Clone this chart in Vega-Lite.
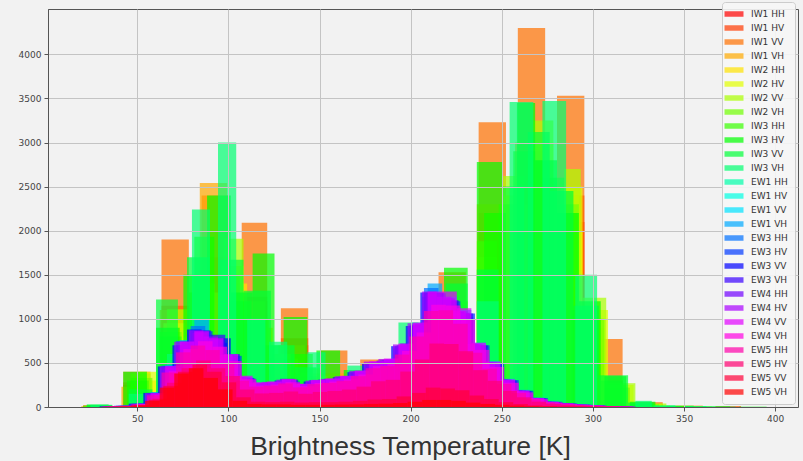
{
"$schema":"https://vega.github.io/schema/vega-lite/v6.json",
"width":750,"height":398,
"autosize":{"type":"none"},
"padding":{"left":48,"top":9,"right":5,"bottom":54},
"background":"#f2f2f2",
"config":{"view":{"stroke":"#555555","strokeWidth":1,"fill":"#f2f2f2"}},
"data":{"values":[
{"s":"IW1 HH","a":20,"b":35,"n":12},{"s":"IW1 HH","a":42,"b":57,"n":250},{"s":"IW1 HH","a":63,"b":78,"n":1000},{"s":"IW1 HH","a":85,"b":100,"n":1500},{"s":"IW1 HH","a":107,"b":121,"n":1200},{"s":"IW1 HH","a":128.5,"b":143.5,"n":700},{"s":"IW1 HH","a":150,"b":165,"n":300},{"s":"IW1 HH","a":172,"b":187,"n":250},{"s":"IW1 HH","a":193,"b":208,"n":400},{"s":"IW1 HH","a":215,"b":230,"n":900},{"s":"IW1 HH","a":237,"b":252,"n":2000},{"s":"IW1 HH","a":258.5,"b":273.5,"n":2600},{"s":"IW1 HH","a":280,"b":295,"n":2100},{"s":"IW1 HH","a":302,"b":316,"n":250},{"s":"IW1 HH","a":323,"b":338,"n":30},{"s":"IW1 HH","a":345,"b":360,"n":8},{"s":"IW1 HH","a":367,"b":381,"n":4},
{"s":"IW1 HV","a":20,"b":35,"n":14},{"s":"IW1 HV","a":42,"b":57,"n":280},{"s":"IW1 HV","a":63,"b":78,"n":1150},{"s":"IW1 HV","a":85,"b":100,"n":1700},{"s":"IW1 HV","a":107,"b":121,"n":1250},{"s":"IW1 HV","a":128.5,"b":143.5,"n":780},{"s":"IW1 HV","a":150,"b":165,"n":340},{"s":"IW1 HV","a":172,"b":187,"n":300},{"s":"IW1 HV","a":193,"b":208,"n":450},{"s":"IW1 HV","a":215,"b":230,"n":1000},{"s":"IW1 HV","a":237,"b":252,"n":2200},{"s":"IW1 HV","a":258.5,"b":273.5,"n":2900},{"s":"IW1 HV","a":280,"b":295,"n":2400},{"s":"IW1 HV","a":302,"b":316,"n":300},{"s":"IW1 HV","a":323,"b":338,"n":35},{"s":"IW1 HV","a":345,"b":360,"n":9},{"s":"IW1 HV","a":367,"b":381,"n":4},
{"s":"IW1 VV","a":20,"b":35,"n":20},{"s":"IW1 VV","a":42,"b":57,"n":400},{"s":"IW1 VV","a":63,"b":78,"n":1900},{"s":"IW1 VV","a":85,"b":100,"n":2400},{"s":"IW1 VV","a":107,"b":121,"n":2090},{"s":"IW1 VV","a":128.5,"b":143.5,"n":1120},{"s":"IW1 VV","a":150,"b":165,"n":640},{"s":"IW1 VV","a":172,"b":187,"n":540},{"s":"IW1 VV","a":193,"b":208,"n":650},{"s":"IW1 VV","a":215,"b":230,"n":1530},{"s":"IW1 VV","a":237,"b":252,"n":3230},{"s":"IW1 VV","a":258.5,"b":273.5,"n":4300},{"s":"IW1 VV","a":280,"b":295,"n":3530},{"s":"IW1 VV","a":302,"b":316,"n":770},{"s":"IW1 VV","a":323,"b":338,"n":55},{"s":"IW1 VV","a":345,"b":360,"n":15},{"s":"IW1 VV","a":367,"b":381,"n":8},
{"s":"IW1 VH","a":19,"b":34,"n":10},{"s":"IW1 VH","a":41,"b":56,"n":230},{"s":"IW1 VH","a":62,"b":77,"n":1100},{"s":"IW1 VH","a":84,"b":99,"n":2540},{"s":"IW1 VH","a":106,"b":120,"n":1200},{"s":"IW1 VH","a":127,"b":142,"n":700},{"s":"IW1 VH","a":149,"b":164,"n":380},{"s":"IW1 VH","a":171,"b":186,"n":300},{"s":"IW1 VH","a":192,"b":207,"n":600},{"s":"IW1 VH","a":214,"b":229,"n":1000},{"s":"IW1 VH","a":236,"b":251,"n":2300},{"s":"IW1 VH","a":257,"b":272,"n":3000},{"s":"IW1 VH","a":278,"b":292,"n":2400},{"s":"IW1 VH","a":301,"b":315,"n":320},{"s":"IW1 VH","a":322,"b":337,"n":30},
{"s":"IW2 HH","a":24,"b":36,"n":10},{"s":"IW2 HH","a":48,"b":60,"n":300},{"s":"IW2 HH","a":66,"b":78,"n":800},{"s":"IW2 HH","a":84,"b":96,"n":1300},{"s":"IW2 HH","a":98,"b":110,"n":1400},{"s":"IW2 HH","a":112,"b":124,"n":900},{"s":"IW2 HH","a":126,"b":138,"n":550},{"s":"IW2 HH","a":142,"b":154,"n":350},{"s":"IW2 HH","a":158,"b":170,"n":280},{"s":"IW2 HH","a":174,"b":186,"n":350},{"s":"IW2 HH","a":190,"b":202,"n":550},{"s":"IW2 HH","a":206,"b":218,"n":850},{"s":"IW2 HH","a":220,"b":231,"n":1100},{"s":"IW2 HH","a":238,"b":250,"n":1500},{"s":"IW2 HH","a":254,"b":266,"n":2300},{"s":"IW2 HH","a":268,"b":280,"n":2500},{"s":"IW2 HH","a":282,"b":294,"n":2000},{"s":"IW2 HH","a":294,"b":306,"n":900},{"s":"IW2 HH","a":306,"b":318,"n":200},{"s":"IW2 HH","a":318,"b":330,"n":40},{"s":"IW2 HH","a":330,"b":342,"n":15},
{"s":"IW2 HV","a":22,"b":34,"n":12},{"s":"IW2 HV","a":50,"b":60,"n":400},{"s":"IW2 HV","a":64,"b":76,"n":950},{"s":"IW2 HV","a":80,"b":92,"n":1400},{"s":"IW2 HV","a":96,"b":108,"n":1600},{"s":"IW2 HV","a":110,"b":122,"n":1000},{"s":"IW2 HV","a":124,"b":136,"n":600},{"s":"IW2 HV","a":138,"b":150,"n":380},{"s":"IW2 HV","a":154,"b":166,"n":300},{"s":"IW2 HV","a":170,"b":182,"n":380},{"s":"IW2 HV","a":186,"b":198,"n":520},{"s":"IW2 HV","a":202,"b":214,"n":850},{"s":"IW2 HV","a":218,"b":230,"n":1200},{"s":"IW2 HV","a":236,"b":247,"n":1700},{"s":"IW2 HV","a":250,"b":262,"n":2400},{"s":"IW2 HV","a":266,"b":278,"n":3000},{"s":"IW2 HV","a":282,"b":294,"n":2500},{"s":"IW2 HV","a":296,"b":308,"n":1100},{"s":"IW2 HV","a":308,"b":322,"n":250},{"s":"IW2 HV","a":324,"b":338,"n":35},{"s":"IW2 HV","a":340,"b":354,"n":10},
{"s":"IW2 VV","a":22,"b":34,"n":15},{"s":"IW2 VV","a":46,"b":57,"n":380},{"s":"IW2 VV","a":66,"b":78,"n":1110},{"s":"IW2 VV","a":80,"b":92,"n":1500},{"s":"IW2 VV","a":97,"b":108,"n":1910},{"s":"IW2 VV","a":110,"b":121,"n":1000},{"s":"IW2 VV","a":125,"b":136,"n":600},{"s":"IW2 VV","a":140,"b":150,"n":440},{"s":"IW2 VV","a":153,"b":164,"n":280},{"s":"IW2 VV","a":168,"b":180,"n":350},{"s":"IW2 VV","a":182,"b":193,"n":450},{"s":"IW2 VV","a":196,"b":207,"n":700},{"s":"IW2 VV","a":210,"b":221,"n":1000},{"s":"IW2 VV","a":221,"b":231,"n":1200},{"s":"IW2 VV","a":236,"b":247,"n":1880},{"s":"IW2 VV","a":250,"b":262,"n":2620},{"s":"IW2 VV","a":267,"b":278,"n":3250},{"s":"IW2 VV","a":284,"b":293,"n":2700},{"s":"IW2 VV","a":294,"b":307,"n":1240},{"s":"IW2 VV","a":307,"b":323,"n":270},{"s":"IW2 VV","a":327,"b":340,"n":40},{"s":"IW2 VV","a":345,"b":360,"n":12},
{"s":"IW2 VH","a":20,"b":32,"n":10},{"s":"IW2 VH","a":46,"b":58,"n":330},{"s":"IW2 VH","a":62,"b":74,"n":850},{"s":"IW2 VH","a":78,"b":90,"n":1300},{"s":"IW2 VH","a":94,"b":106,"n":1500},{"s":"IW2 VH","a":108,"b":120,"n":950},{"s":"IW2 VH","a":122,"b":134,"n":550},{"s":"IW2 VH","a":136,"b":148,"n":350},{"s":"IW2 VH","a":152,"b":164,"n":280},{"s":"IW2 VH","a":168,"b":180,"n":350},{"s":"IW2 VH","a":184,"b":196,"n":480},{"s":"IW2 VH","a":200,"b":212,"n":780},{"s":"IW2 VH","a":216,"b":228,"n":1100},{"s":"IW2 VH","a":236,"b":248,"n":1500},{"s":"IW2 VH","a":248,"b":260,"n":2300},{"s":"IW2 VH","a":264,"b":276,"n":2800},{"s":"IW2 VH","a":280,"b":292,"n":2300},{"s":"IW2 VH","a":294,"b":306,"n":1000},{"s":"IW2 VH","a":306,"b":320,"n":220},{"s":"IW2 VH","a":322,"b":336,"n":30},{"s":"IW2 VH","a":338,"b":352,"n":8},
{"s":"IW3 HH","a":20,"b":33,"n":15},{"s":"IW3 HH","a":44,"b":56,"n":300},{"s":"IW3 HH","a":62,"b":74,"n":800},{"s":"IW3 HH","a":81,"b":92,"n":1930},{"s":"IW3 HH","a":100,"b":112,"n":1200},{"s":"IW3 HH","a":118,"b":130,"n":700},{"s":"IW3 HH","a":134,"b":146,"n":600},{"s":"IW3 HH","a":152,"b":164,"n":300},{"s":"IW3 HH","a":170,"b":182,"n":300},{"s":"IW3 HH","a":188,"b":200,"n":500},{"s":"IW3 HH","a":206,"b":218,"n":800},{"s":"IW3 HH","a":220,"b":231,"n":1100},{"s":"IW3 HH","a":240,"b":252,"n":2200},{"s":"IW3 HH","a":256,"b":268,"n":2900},{"s":"IW3 HH","a":272,"b":284,"n":2600},{"s":"IW3 HH","a":288,"b":300,"n":1100},{"s":"IW3 HH","a":304,"b":316,"n":300},{"s":"IW3 HH","a":320,"b":332,"n":40},
{"s":"IW3 HV","a":22,"b":36,"n":20},{"s":"IW3 HV","a":42,"b":55,"n":400},{"s":"IW3 HV","a":60,"b":73,"n":900},{"s":"IW3 HV","a":75,"b":88,"n":1500},{"s":"IW3 HV","a":88,"b":101,"n":2400},{"s":"IW3 HV","a":101,"b":113,"n":1300},{"s":"IW3 HV","a":113,"b":125,"n":1740},{"s":"IW3 HV","a":130,"b":143,"n":1020},{"s":"IW3 HV","a":148,"b":161,"n":640},{"s":"IW3 HV","a":163,"b":176,"n":420},{"s":"IW3 HV","a":182,"b":195,"n":500},{"s":"IW3 HV","a":200,"b":213,"n":800},{"s":"IW3 HV","a":218,"b":231,"n":1580},{"s":"IW3 HV","a":236,"b":250,"n":2780},{"s":"IW3 HV","a":258,"b":268,"n":3450},{"s":"IW3 HV","a":268,"b":280,"n":2800},{"s":"IW3 HV","a":280,"b":292,"n":2200},{"s":"IW3 HV","a":292,"b":304,"n":1200},{"s":"IW3 HV","a":306,"b":318,"n":350},{"s":"IW3 HV","a":320,"b":334,"n":60},{"s":"IW3 HV","a":340,"b":355,"n":15},{"s":"IW3 HV","a":360,"b":375,"n":8},{"s":"IW3 HV","a":380,"b":395,"n":4},
{"s":"IW3 VV","a":22,"b":34,"n":30},{"s":"IW3 VV","a":45,"b":58,"n":200},{"s":"IW3 VV","a":60,"b":72,"n":1220},{"s":"IW3 VV","a":77,"b":89.5,"n":1700},{"s":"IW3 VV","a":95,"b":108,"n":1670},{"s":"IW3 VV","a":108,"b":123,"n":1320},{"s":"IW3 VV","a":123,"b":136,"n":700},{"s":"IW3 VV","a":136,"b":148,"n":450},{"s":"IW3 VV","a":150,"b":164,"n":300},{"s":"IW3 VV","a":164,"b":176,"n":350},{"s":"IW3 VV","a":178,"b":192,"n":450},{"s":"IW3 VV","a":192,"b":206,"n":650},{"s":"IW3 VV","a":206,"b":219,"n":900},{"s":"IW3 VV","a":219,"b":231,"n":1400},{"s":"IW3 VV","a":236,"b":248,"n":1560},{"s":"IW3 VV","a":250,"b":262,"n":2500},{"s":"IW3 VV","a":264,"b":276,"n":3120},{"s":"IW3 VV","a":276,"b":289,"n":2450},{"s":"IW3 VV","a":289,"b":303,"n":1150},{"s":"IW3 VV","a":303,"b":319,"n":360},{"s":"IW3 VV","a":319,"b":333,"n":50},{"s":"IW3 VV","a":333,"b":348,"n":12},{"s":"IW3 VV","a":350,"b":365,"n":6},
{"s":"IW3 VH","a":24,"b":36,"n":25},{"s":"IW3 VH","a":45,"b":57,"n":150},{"s":"IW3 VH","a":66,"b":78,"n":600},{"s":"IW3 VH","a":79.7,"b":89.6,"n":2240},{"s":"IW3 VH","a":94,"b":104,"n":3000},{"s":"IW3 VH","a":110,"b":120,"n":1000},{"s":"IW3 VH","a":122,"b":132,"n":740},{"s":"IW3 VH","a":143,"b":153,"n":620},{"s":"IW3 VH","a":165,"b":176,"n":470},{"s":"IW3 VH","a":193,"b":204,"n":960},{"s":"IW3 VH","a":210,"b":220,"n":900},{"s":"IW3 VH","a":236,"b":248,"n":1200},{"s":"IW3 VH","a":254,"b":267,"n":3460},{"s":"IW3 VH","a":272,"b":285,"n":3470},{"s":"IW3 VH","a":290,"b":302,"n":1500},{"s":"IW3 VH","a":323,"b":332,"n":70},{"s":"IW3 VH","a":333,"b":345,"n":20},{"s":"IW3 VH","a":350,"b":362,"n":10},{"s":"IW3 VH","a":365,"b":378,"n":5},
{"s":"EW1 HH","a":32,"b":40,"n":7},{"s":"EW1 HH","a":40,"b":48,"n":14},{"s":"EW1 HH","a":48,"b":56,"n":36},{"s":"EW1 HH","a":56,"b":64,"n":150},{"s":"EW1 HH","a":64,"b":72,"n":440},{"s":"EW1 HH","a":72,"b":80,"n":700},{"s":"EW1 HH","a":80,"b":88,"n":860},{"s":"EW1 HH","a":88,"b":96,"n":720},{"s":"EW1 HH","a":96,"b":104,"n":560},{"s":"EW1 HH","a":104,"b":112,"n":320},{"s":"EW1 HH","a":112,"b":120,"n":250},{"s":"EW1 HH","a":120,"b":128,"n":255},{"s":"EW1 HH","a":128,"b":136,"n":290},{"s":"EW1 HH","a":136,"b":144,"n":240},{"s":"EW1 HH","a":144,"b":152,"n":280},{"s":"EW1 HH","a":152,"b":160,"n":300},{"s":"EW1 HH","a":160,"b":168,"n":330},{"s":"EW1 HH","a":168,"b":176,"n":390},{"s":"EW1 HH","a":176,"b":184,"n":480},{"s":"EW1 HH","a":184,"b":192,"n":520},{"s":"EW1 HH","a":192,"b":200,"n":700},{"s":"EW1 HH","a":200,"b":208,"n":960},{"s":"EW1 HH","a":208,"b":216,"n":1240},{"s":"EW1 HH","a":216,"b":224,"n":1180},{"s":"EW1 HH","a":224,"b":232,"n":1050},{"s":"EW1 HH","a":232,"b":240,"n":690},{"s":"EW1 HH","a":240,"b":248,"n":490},{"s":"EW1 HH","a":248,"b":256,"n":300},{"s":"EW1 HH","a":256,"b":264,"n":185},{"s":"EW1 HH","a":264,"b":272,"n":100},{"s":"EW1 HH","a":272,"b":280,"n":60},{"s":"EW1 HH","a":280,"b":288,"n":41},{"s":"EW1 HH","a":288,"b":296,"n":27},{"s":"EW1 HH","a":296,"b":304,"n":18},{"s":"EW1 HH","a":304,"b":312,"n":11},{"s":"EW1 HH","a":312,"b":320,"n":5},
{"s":"EW1 HV","a":34,"b":42,"n":7},{"s":"EW1 HV","a":42,"b":50,"n":13},{"s":"EW1 HV","a":50,"b":58,"n":35},{"s":"EW1 HV","a":58,"b":66,"n":145},{"s":"EW1 HV","a":66,"b":74,"n":430},{"s":"EW1 HV","a":74,"b":82,"n":690},{"s":"EW1 HV","a":82,"b":90,"n":850},{"s":"EW1 HV","a":90,"b":98,"n":700},{"s":"EW1 HV","a":98,"b":106,"n":550},{"s":"EW1 HV","a":106,"b":114,"n":310},{"s":"EW1 HV","a":114,"b":122,"n":245},{"s":"EW1 HV","a":122,"b":130,"n":250},{"s":"EW1 HV","a":130,"b":138,"n":280},{"s":"EW1 HV","a":138,"b":146,"n":240},{"s":"EW1 HV","a":146,"b":154,"n":270},{"s":"EW1 HV","a":154,"b":162,"n":290},{"s":"EW1 HV","a":162,"b":170,"n":320},{"s":"EW1 HV","a":170,"b":178,"n":375},{"s":"EW1 HV","a":178,"b":186,"n":470},{"s":"EW1 HV","a":186,"b":194,"n":510},{"s":"EW1 HV","a":194,"b":202,"n":660},{"s":"EW1 HV","a":202,"b":210,"n":880},{"s":"EW1 HV","a":210,"b":218,"n":1220},{"s":"EW1 HV","a":218,"b":226,"n":1160},{"s":"EW1 HV","a":226,"b":234,"n":1020},{"s":"EW1 HV","a":234,"b":242,"n":670},{"s":"EW1 HV","a":242,"b":250,"n":480},{"s":"EW1 HV","a":250,"b":258,"n":290},{"s":"EW1 HV","a":258,"b":266,"n":180},{"s":"EW1 HV","a":266,"b":274,"n":97},{"s":"EW1 HV","a":274,"b":282,"n":57},{"s":"EW1 HV","a":282,"b":290,"n":40},{"s":"EW1 HV","a":290,"b":298,"n":26},{"s":"EW1 HV","a":298,"b":306,"n":17},{"s":"EW1 HV","a":306,"b":314,"n":10},{"s":"EW1 HV","a":314,"b":322,"n":5},
{"s":"EW1 VV","a":30,"b":38,"n":7},{"s":"EW1 VV","a":38,"b":46,"n":13},{"s":"EW1 VV","a":46,"b":54,"n":36},{"s":"EW1 VV","a":54,"b":62,"n":150},{"s":"EW1 VV","a":62,"b":70,"n":445},{"s":"EW1 VV","a":70,"b":78,"n":710},{"s":"EW1 VV","a":78,"b":86,"n":880},{"s":"EW1 VV","a":86,"b":94,"n":720},{"s":"EW1 VV","a":94,"b":102,"n":560},{"s":"EW1 VV","a":102,"b":110,"n":315},{"s":"EW1 VV","a":110,"b":118,"n":250},{"s":"EW1 VV","a":118,"b":126,"n":258},{"s":"EW1 VV","a":126,"b":134,"n":285},{"s":"EW1 VV","a":134,"b":142,"n":242},{"s":"EW1 VV","a":142,"b":150,"n":276},{"s":"EW1 VV","a":150,"b":158,"n":295},{"s":"EW1 VV","a":158,"b":166,"n":325},{"s":"EW1 VV","a":166,"b":174,"n":380},{"s":"EW1 VV","a":174,"b":182,"n":475},{"s":"EW1 VV","a":182,"b":190,"n":505},{"s":"EW1 VV","a":190,"b":198,"n":665},{"s":"EW1 VV","a":198,"b":206,"n":900},{"s":"EW1 VV","a":206,"b":214,"n":1250},{"s":"EW1 VV","a":214,"b":222,"n":1170},{"s":"EW1 VV","a":222,"b":230,"n":1040},{"s":"EW1 VV","a":230,"b":238,"n":680},{"s":"EW1 VV","a":238,"b":246,"n":485},{"s":"EW1 VV","a":246,"b":254,"n":295},{"s":"EW1 VV","a":254,"b":262,"n":182},{"s":"EW1 VV","a":262,"b":270,"n":99},{"s":"EW1 VV","a":270,"b":278,"n":58},{"s":"EW1 VV","a":278,"b":286,"n":40},{"s":"EW1 VV","a":286,"b":294,"n":27},{"s":"EW1 VV","a":294,"b":302,"n":18},{"s":"EW1 VV","a":302,"b":310,"n":11},{"s":"EW1 VV","a":310,"b":318,"n":5},
{"s":"EW1 VH","a":33,"b":41,"n":8},{"s":"EW1 VH","a":41,"b":49,"n":15},{"s":"EW1 VH","a":49,"b":57,"n":40},{"s":"EW1 VH","a":57,"b":65,"n":170},{"s":"EW1 VH","a":65,"b":73,"n":480},{"s":"EW1 VH","a":73,"b":81,"n":760},{"s":"EW1 VH","a":81,"b":89,"n":990},{"s":"EW1 VH","a":89,"b":97,"n":760},{"s":"EW1 VH","a":97,"b":105,"n":600},{"s":"EW1 VH","a":105,"b":113,"n":340},{"s":"EW1 VH","a":113,"b":121,"n":262},{"s":"EW1 VH","a":121,"b":129,"n":270},{"s":"EW1 VH","a":129,"b":137,"n":300},{"s":"EW1 VH","a":137,"b":145,"n":255},{"s":"EW1 VH","a":145,"b":153,"n":292},{"s":"EW1 VH","a":153,"b":161,"n":312},{"s":"EW1 VH","a":161,"b":169,"n":340},{"s":"EW1 VH","a":169,"b":177,"n":400},{"s":"EW1 VH","a":177,"b":185,"n":500},{"s":"EW1 VH","a":185,"b":193,"n":530},{"s":"EW1 VH","a":193,"b":201,"n":700},{"s":"EW1 VH","a":201,"b":209,"n":950},{"s":"EW1 VH","a":209,"b":217,"n":1400},{"s":"EW1 VH","a":217,"b":225,"n":1250},{"s":"EW1 VH","a":225,"b":233,"n":1100},{"s":"EW1 VH","a":233,"b":241,"n":730},{"s":"EW1 VH","a":241,"b":249,"n":520},{"s":"EW1 VH","a":249,"b":257,"n":320},{"s":"EW1 VH","a":257,"b":265,"n":195},{"s":"EW1 VH","a":265,"b":273,"n":107},{"s":"EW1 VH","a":273,"b":281,"n":63},{"s":"EW1 VH","a":281,"b":289,"n":44},{"s":"EW1 VH","a":289,"b":297,"n":29},{"s":"EW1 VH","a":297,"b":305,"n":19},{"s":"EW1 VH","a":305,"b":313,"n":12},{"s":"EW1 VH","a":313,"b":321,"n":6},
{"s":"EW3 HH","a":31,"b":39,"n":8},{"s":"EW3 HH","a":39,"b":47,"n":14},{"s":"EW3 HH","a":47,"b":55,"n":38},{"s":"EW3 HH","a":55,"b":63,"n":160},{"s":"EW3 HH","a":63,"b":71,"n":470},{"s":"EW3 HH","a":71,"b":79,"n":750},{"s":"EW3 HH","a":79,"b":87,"n":920},{"s":"EW3 HH","a":87,"b":95,"n":760},{"s":"EW3 HH","a":95,"b":103,"n":590},{"s":"EW3 HH","a":103,"b":111,"n":335},{"s":"EW3 HH","a":111,"b":119,"n":258},{"s":"EW3 HH","a":119,"b":127,"n":268},{"s":"EW3 HH","a":127,"b":135,"n":295},{"s":"EW3 HH","a":135,"b":143,"n":250},{"s":"EW3 HH","a":143,"b":151,"n":288},{"s":"EW3 HH","a":151,"b":159,"n":308},{"s":"EW3 HH","a":159,"b":167,"n":335},{"s":"EW3 HH","a":167,"b":175,"n":395},{"s":"EW3 HH","a":175,"b":183,"n":495},{"s":"EW3 HH","a":183,"b":191,"n":525},{"s":"EW3 HH","a":191,"b":199,"n":690},{"s":"EW3 HH","a":199,"b":207,"n":930},{"s":"EW3 HH","a":207,"b":215,"n":1350},{"s":"EW3 HH","a":215,"b":223,"n":1240},{"s":"EW3 HH","a":223,"b":231,"n":1090},{"s":"EW3 HH","a":231,"b":239,"n":720},{"s":"EW3 HH","a":239,"b":247,"n":512},{"s":"EW3 HH","a":247,"b":255,"n":315},{"s":"EW3 HH","a":255,"b":263,"n":190},{"s":"EW3 HH","a":263,"b":271,"n":104},{"s":"EW3 HH","a":271,"b":279,"n":61},{"s":"EW3 HH","a":279,"b":287,"n":42},{"s":"EW3 HH","a":287,"b":295,"n":28},{"s":"EW3 HH","a":295,"b":303,"n":19},{"s":"EW3 HH","a":303,"b":311,"n":11},{"s":"EW3 HH","a":311,"b":319,"n":6},
{"s":"EW3 HV","a":35,"b":43,"n":7},{"s":"EW3 HV","a":43,"b":51,"n":13},{"s":"EW3 HV","a":51,"b":59,"n":36},{"s":"EW3 HV","a":59,"b":67,"n":150},{"s":"EW3 HV","a":67,"b":75,"n":450},{"s":"EW3 HV","a":75,"b":83,"n":720},{"s":"EW3 HV","a":83,"b":91,"n":860},{"s":"EW3 HV","a":91,"b":99,"n":730},{"s":"EW3 HV","a":99,"b":107,"n":580},{"s":"EW3 HV","a":107,"b":115,"n":320},{"s":"EW3 HV","a":115,"b":123,"n":250},{"s":"EW3 HV","a":123,"b":131,"n":262},{"s":"EW3 HV","a":131,"b":139,"n":288},{"s":"EW3 HV","a":139,"b":147,"n":245},{"s":"EW3 HV","a":147,"b":155,"n":282},{"s":"EW3 HV","a":155,"b":163,"n":300},{"s":"EW3 HV","a":163,"b":171,"n":328},{"s":"EW3 HV","a":171,"b":179,"n":385},{"s":"EW3 HV","a":179,"b":187,"n":485},{"s":"EW3 HV","a":187,"b":195,"n":515},{"s":"EW3 HV","a":195,"b":203,"n":680},{"s":"EW3 HV","a":203,"b":211,"n":920},{"s":"EW3 HV","a":211,"b":219,"n":1290},{"s":"EW3 HV","a":219,"b":227,"n":1200},{"s":"EW3 HV","a":227,"b":235,"n":1060},{"s":"EW3 HV","a":235,"b":243,"n":700},{"s":"EW3 HV","a":243,"b":251,"n":500},{"s":"EW3 HV","a":251,"b":259,"n":305},{"s":"EW3 HV","a":259,"b":267,"n":185},{"s":"EW3 HV","a":267,"b":275,"n":101},{"s":"EW3 HV","a":275,"b":283,"n":59},{"s":"EW3 HV","a":283,"b":291,"n":41},{"s":"EW3 HV","a":291,"b":299,"n":27},{"s":"EW3 HV","a":299,"b":307,"n":18},{"s":"EW3 HV","a":307,"b":315,"n":11},{"s":"EW3 HV","a":315,"b":323,"n":5},
{"s":"EW3 VV","a":29,"b":37,"n":8},{"s":"EW3 VV","a":37,"b":45,"n":14},{"s":"EW3 VV","a":45,"b":53,"n":38},{"s":"EW3 VV","a":53,"b":61,"n":160},{"s":"EW3 VV","a":61,"b":69,"n":460},{"s":"EW3 VV","a":69,"b":77,"n":700},{"s":"EW3 VV","a":77,"b":85,"n":880},{"s":"EW3 VV","a":85,"b":93,"n":780},{"s":"EW3 VV","a":93,"b":101,"n":780},{"s":"EW3 VV","a":101,"b":109,"n":340},{"s":"EW3 VV","a":109,"b":117,"n":262},{"s":"EW3 VV","a":117,"b":125,"n":270},{"s":"EW3 VV","a":125,"b":133,"n":300},{"s":"EW3 VV","a":133,"b":141,"n":255},{"s":"EW3 VV","a":141,"b":149,"n":290},{"s":"EW3 VV","a":149,"b":157,"n":310},{"s":"EW3 VV","a":157,"b":165,"n":338},{"s":"EW3 VV","a":165,"b":173,"n":395},{"s":"EW3 VV","a":173,"b":181,"n":495},{"s":"EW3 VV","a":181,"b":189,"n":525},{"s":"EW3 VV","a":189,"b":197,"n":690},{"s":"EW3 VV","a":197,"b":205,"n":920},{"s":"EW3 VV","a":205,"b":213,"n":1300},{"s":"EW3 VV","a":213,"b":221,"n":1220},{"s":"EW3 VV","a":221,"b":229,"n":1080},{"s":"EW3 VV","a":229,"b":237,"n":715},{"s":"EW3 VV","a":237,"b":245,"n":505},{"s":"EW3 VV","a":245,"b":253,"n":310},{"s":"EW3 VV","a":253,"b":261,"n":188},{"s":"EW3 VV","a":261,"b":269,"n":103},{"s":"EW3 VV","a":269,"b":277,"n":61},{"s":"EW3 VV","a":277,"b":285,"n":42},{"s":"EW3 VV","a":285,"b":293,"n":28},{"s":"EW3 VV","a":293,"b":301,"n":19},{"s":"EW3 VV","a":301,"b":309,"n":11},{"s":"EW3 VV","a":309,"b":317,"n":6},
{"s":"EW3 VH","a":34,"b":42,"n":7},{"s":"EW3 VH","a":42,"b":50,"n":13},{"s":"EW3 VH","a":50,"b":58,"n":36},{"s":"EW3 VH","a":58,"b":66,"n":152},{"s":"EW3 VH","a":66,"b":74,"n":450},{"s":"EW3 VH","a":74,"b":82,"n":740},{"s":"EW3 VH","a":82,"b":90,"n":870},{"s":"EW3 VH","a":90,"b":98,"n":820},{"s":"EW3 VH","a":98,"b":106,"n":600},{"s":"EW3 VH","a":106,"b":114,"n":330},{"s":"EW3 VH","a":114,"b":122,"n":255},{"s":"EW3 VH","a":122,"b":130,"n":265},{"s":"EW3 VH","a":130,"b":138,"n":310},{"s":"EW3 VH","a":138,"b":146,"n":250},{"s":"EW3 VH","a":146,"b":154,"n":300},{"s":"EW3 VH","a":154,"b":162,"n":305},{"s":"EW3 VH","a":162,"b":170,"n":350},{"s":"EW3 VH","a":170,"b":178,"n":400},{"s":"EW3 VH","a":178,"b":186,"n":510},{"s":"EW3 VH","a":186,"b":194,"n":540},{"s":"EW3 VH","a":194,"b":202,"n":720},{"s":"EW3 VH","a":202,"b":210,"n":940},{"s":"EW3 VH","a":210,"b":218,"n":1300},{"s":"EW3 VH","a":218,"b":226,"n":1210},{"s":"EW3 VH","a":226,"b":234,"n":1060},{"s":"EW3 VH","a":234,"b":242,"n":700},{"s":"EW3 VH","a":242,"b":250,"n":495},{"s":"EW3 VH","a":250,"b":258,"n":300},{"s":"EW3 VH","a":258,"b":266,"n":182},{"s":"EW3 VH","a":266,"b":274,"n":100},{"s":"EW3 VH","a":274,"b":282,"n":58},{"s":"EW3 VH","a":282,"b":290,"n":40},{"s":"EW3 VH","a":290,"b":298,"n":27},{"s":"EW3 VH","a":298,"b":306,"n":18},{"s":"EW3 VH","a":306,"b":314,"n":11},{"s":"EW3 VH","a":314,"b":322,"n":5},
{"s":"EW4 HH","a":32,"b":40,"n":7},{"s":"EW4 HH","a":40,"b":48,"n":13},{"s":"EW4 HH","a":48,"b":56,"n":35},{"s":"EW4 HH","a":56,"b":64,"n":148},{"s":"EW4 HH","a":64,"b":72,"n":440},{"s":"EW4 HH","a":72,"b":80,"n":700},{"s":"EW4 HH","a":80,"b":88,"n":840},{"s":"EW4 HH","a":88,"b":96,"n":760},{"s":"EW4 HH","a":96,"b":104,"n":570},{"s":"EW4 HH","a":104,"b":112,"n":335},{"s":"EW4 HH","a":112,"b":120,"n":270},{"s":"EW4 HH","a":120,"b":128,"n":280},{"s":"EW4 HH","a":128,"b":136,"n":320},{"s":"EW4 HH","a":136,"b":144,"n":260},{"s":"EW4 HH","a":144,"b":152,"n":305},{"s":"EW4 HH","a":152,"b":160,"n":320},{"s":"EW4 HH","a":160,"b":168,"n":345},{"s":"EW4 HH","a":168,"b":176,"n":405},{"s":"EW4 HH","a":176,"b":184,"n":500},{"s":"EW4 HH","a":184,"b":192,"n":535},{"s":"EW4 HH","a":192,"b":200,"n":700},{"s":"EW4 HH","a":200,"b":208,"n":930},{"s":"EW4 HH","a":208,"b":216,"n":1280},{"s":"EW4 HH","a":216,"b":224,"n":1230},{"s":"EW4 HH","a":224,"b":232,"n":1070},{"s":"EW4 HH","a":232,"b":240,"n":700},{"s":"EW4 HH","a":240,"b":248,"n":495},{"s":"EW4 HH","a":248,"b":256,"n":300},{"s":"EW4 HH","a":256,"b":264,"n":182},{"s":"EW4 HH","a":264,"b":272,"n":100},{"s":"EW4 HH","a":272,"b":280,"n":58},{"s":"EW4 HH","a":280,"b":288,"n":40},{"s":"EW4 HH","a":288,"b":296,"n":27},{"s":"EW4 HH","a":296,"b":304,"n":18},{"s":"EW4 HH","a":304,"b":312,"n":11},{"s":"EW4 HH","a":312,"b":320,"n":5},
{"s":"EW4 HV","a":30,"b":38,"n":7},{"s":"EW4 HV","a":38,"b":46,"n":14},{"s":"EW4 HV","a":46,"b":54,"n":37},{"s":"EW4 HV","a":54,"b":62,"n":156},{"s":"EW4 HV","a":62,"b":70,"n":460},{"s":"EW4 HV","a":70,"b":78,"n":740},{"s":"EW4 HV","a":78,"b":86,"n":870},{"s":"EW4 HV","a":86,"b":94,"n":800},{"s":"EW4 HV","a":94,"b":102,"n":590},{"s":"EW4 HV","a":102,"b":110,"n":345},{"s":"EW4 HV","a":110,"b":118,"n":275},{"s":"EW4 HV","a":118,"b":126,"n":285},{"s":"EW4 HV","a":126,"b":134,"n":310},{"s":"EW4 HV","a":134,"b":142,"n":262},{"s":"EW4 HV","a":142,"b":150,"n":300},{"s":"EW4 HV","a":150,"b":158,"n":318},{"s":"EW4 HV","a":158,"b":166,"n":350},{"s":"EW4 HV","a":166,"b":174,"n":410},{"s":"EW4 HV","a":174,"b":182,"n":515},{"s":"EW4 HV","a":182,"b":190,"n":545},{"s":"EW4 HV","a":190,"b":198,"n":710},{"s":"EW4 HV","a":198,"b":206,"n":950},{"s":"EW4 HV","a":206,"b":214,"n":1310},{"s":"EW4 HV","a":214,"b":222,"n":1250},{"s":"EW4 HV","a":222,"b":230,"n":1090},{"s":"EW4 HV","a":230,"b":238,"n":715},{"s":"EW4 HV","a":238,"b":246,"n":505},{"s":"EW4 HV","a":246,"b":254,"n":308},{"s":"EW4 HV","a":254,"b":262,"n":186},{"s":"EW4 HV","a":262,"b":270,"n":102},{"s":"EW4 HV","a":270,"b":278,"n":60},{"s":"EW4 HV","a":278,"b":286,"n":41},{"s":"EW4 HV","a":286,"b":294,"n":28},{"s":"EW4 HV","a":294,"b":302,"n":18},{"s":"EW4 HV","a":302,"b":310,"n":11},{"s":"EW4 HV","a":310,"b":318,"n":6},
{"s":"EW4 VV","a":33,"b":41,"n":7},{"s":"EW4 VV","a":41,"b":49,"n":14},{"s":"EW4 VV","a":49,"b":57,"n":37},{"s":"EW4 VV","a":57,"b":65,"n":158},{"s":"EW4 VV","a":65,"b":73,"n":465},{"s":"EW4 VV","a":73,"b":81,"n":744},{"s":"EW4 VV","a":81,"b":89,"n":860},{"s":"EW4 VV","a":89,"b":97,"n":780},{"s":"EW4 VV","a":97,"b":105,"n":600},{"s":"EW4 VV","a":105,"b":113,"n":355},{"s":"EW4 VV","a":113,"b":121,"n":280},{"s":"EW4 VV","a":121,"b":129,"n":290},{"s":"EW4 VV","a":129,"b":137,"n":318},{"s":"EW4 VV","a":137,"b":145,"n":265},{"s":"EW4 VV","a":145,"b":153,"n":308},{"s":"EW4 VV","a":153,"b":161,"n":325},{"s":"EW4 VV","a":161,"b":169,"n":355},{"s":"EW4 VV","a":169,"b":177,"n":415},{"s":"EW4 VV","a":177,"b":185,"n":520},{"s":"EW4 VV","a":185,"b":193,"n":550},{"s":"EW4 VV","a":193,"b":201,"n":720},{"s":"EW4 VV","a":201,"b":209,"n":960},{"s":"EW4 VV","a":209,"b":217,"n":1310},{"s":"EW4 VV","a":217,"b":225,"n":1310},{"s":"EW4 VV","a":225,"b":233,"n":1120},{"s":"EW4 VV","a":233,"b":241,"n":730},{"s":"EW4 VV","a":241,"b":249,"n":515},{"s":"EW4 VV","a":249,"b":257,"n":312},{"s":"EW4 VV","a":257,"b":265,"n":188},{"s":"EW4 VV","a":265,"b":273,"n":103},{"s":"EW4 VV","a":273,"b":281,"n":60},{"s":"EW4 VV","a":281,"b":289,"n":42},{"s":"EW4 VV","a":289,"b":297,"n":28},{"s":"EW4 VV","a":297,"b":305,"n":19},{"s":"EW4 VV","a":305,"b":313,"n":11},{"s":"EW4 VV","a":313,"b":321,"n":6},
{"s":"EW4 VH","a":35,"b":43,"n":6},{"s":"EW4 VH","a":43,"b":51,"n":12},{"s":"EW4 VH","a":51,"b":59,"n":32},{"s":"EW4 VH","a":59,"b":67,"n":138},{"s":"EW4 VH","a":67,"b":75,"n":405},{"s":"EW4 VH","a":75,"b":83,"n":657},{"s":"EW4 VH","a":83,"b":91,"n":747},{"s":"EW4 VH","a":91,"b":99,"n":684},{"s":"EW4 VH","a":99,"b":107,"n":522},{"s":"EW4 VH","a":107,"b":115,"n":315},{"s":"EW4 VH","a":115,"b":123,"n":243},{"s":"EW4 VH","a":123,"b":131,"n":254},{"s":"EW4 VH","a":131,"b":139,"n":281},{"s":"EW4 VH","a":139,"b":147,"n":234},{"s":"EW4 VH","a":147,"b":155,"n":272},{"s":"EW4 VH","a":155,"b":163,"n":288},{"s":"EW4 VH","a":163,"b":171,"n":313},{"s":"EW4 VH","a":171,"b":179,"n":369},{"s":"EW4 VH","a":179,"b":187,"n":464},{"s":"EW4 VH","a":187,"b":195,"n":491},{"s":"EW4 VH","a":195,"b":203,"n":635},{"s":"EW4 VH","a":203,"b":211,"n":846},{"s":"EW4 VH","a":211,"b":219,"n":1161},{"s":"EW4 VH","a":219,"b":227,"n":1152},{"s":"EW4 VH","a":227,"b":235,"n":990},{"s":"EW4 VH","a":235,"b":243,"n":648},{"s":"EW4 VH","a":243,"b":251,"n":455},{"s":"EW4 VH","a":251,"b":259,"n":275},{"s":"EW4 VH","a":259,"b":267,"n":166},{"s":"EW4 VH","a":267,"b":275,"n":90},{"s":"EW4 VH","a":275,"b":283,"n":52},{"s":"EW4 VH","a":283,"b":291,"n":36},{"s":"EW4 VH","a":291,"b":299,"n":24},{"s":"EW4 VH","a":299,"b":307,"n":16},{"s":"EW4 VH","a":307,"b":315,"n":10},{"s":"EW4 VH","a":315,"b":323,"n":5},
{"s":"EW5 HH","a":31,"b":39,"n":6},{"s":"EW5 HH","a":39,"b":47,"n":12},{"s":"EW5 HH","a":47,"b":55,"n":31},{"s":"EW5 HH","a":55,"b":63,"n":133},{"s":"EW5 HH","a":63,"b":71,"n":391},{"s":"EW5 HH","a":71,"b":79,"n":620},{"s":"EW5 HH","a":79,"b":87,"n":697},{"s":"EW5 HH","a":87,"b":95,"n":646},{"s":"EW5 HH","a":95,"b":103,"n":500},{"s":"EW5 HH","a":103,"b":111,"n":298},{"s":"EW5 HH","a":111,"b":119,"n":231},{"s":"EW5 HH","a":119,"b":127,"n":242},{"s":"EW5 HH","a":127,"b":135,"n":268},{"s":"EW5 HH","a":135,"b":143,"n":223},{"s":"EW5 HH","a":143,"b":151,"n":259},{"s":"EW5 HH","a":151,"b":159,"n":274},{"s":"EW5 HH","a":159,"b":167,"n":298},{"s":"EW5 HH","a":167,"b":175,"n":350},{"s":"EW5 HH","a":175,"b":183,"n":440},{"s":"EW5 HH","a":183,"b":191,"n":466},{"s":"EW5 HH","a":191,"b":199,"n":595},{"s":"EW5 HH","a":199,"b":207,"n":800},{"s":"EW5 HH","a":207,"b":215,"n":1088},{"s":"EW5 HH","a":215,"b":223,"n":1097},{"s":"EW5 HH","a":223,"b":231,"n":944},{"s":"EW5 HH","a":231,"b":239,"n":616},{"s":"EW5 HH","a":239,"b":247,"n":434},{"s":"EW5 HH","a":247,"b":255,"n":262},{"s":"EW5 HH","a":255,"b":263,"n":158},{"s":"EW5 HH","a":263,"b":271,"n":86},{"s":"EW5 HH","a":271,"b":279,"n":51},{"s":"EW5 HH","a":279,"b":287,"n":35},{"s":"EW5 HH","a":287,"b":295,"n":24},{"s":"EW5 HH","a":295,"b":303,"n":15},{"s":"EW5 HH","a":303,"b":311,"n":9},{"s":"EW5 HH","a":311,"b":319,"n":5},
{"s":"EW5 HV","a":34,"b":42,"n":4},{"s":"EW5 HV","a":42,"b":50,"n":8},{"s":"EW5 HV","a":50,"b":58,"n":22},{"s":"EW5 HV","a":58,"b":66,"n":94},{"s":"EW5 HV","a":66,"b":74,"n":275},{"s":"EW5 HV","a":74,"b":82,"n":440},{"s":"EW5 HV","a":82,"b":90,"n":528},{"s":"EW5 HV","a":90,"b":98,"n":440},{"s":"EW5 HV","a":98,"b":106,"n":352},{"s":"EW5 HV","a":106,"b":114,"n":198},{"s":"EW5 HV","a":114,"b":122,"n":154},{"s":"EW5 HV","a":122,"b":130,"n":160},{"s":"EW5 HV","a":130,"b":138,"n":176},{"s":"EW5 HV","a":138,"b":146,"n":149},{"s":"EW5 HV","a":146,"b":154,"n":171},{"s":"EW5 HV","a":154,"b":162,"n":182},{"s":"EW5 HV","a":162,"b":170,"n":198},{"s":"EW5 HV","a":170,"b":178,"n":231},{"s":"EW5 HV","a":178,"b":186,"n":292},{"s":"EW5 HV","a":186,"b":194,"n":308},{"s":"EW5 HV","a":194,"b":202,"n":402},{"s":"EW5 HV","a":202,"b":210,"n":539},{"s":"EW5 HV","a":210,"b":218,"n":720},{"s":"EW5 HV","a":218,"b":226,"n":715},{"s":"EW5 HV","a":226,"b":234,"n":633},{"s":"EW5 HV","a":234,"b":242,"n":418},{"s":"EW5 HV","a":242,"b":250,"n":297},{"s":"EW5 HV","a":250,"b":258,"n":182},{"s":"EW5 HV","a":258,"b":266,"n":110},{"s":"EW5 HV","a":266,"b":274,"n":61},{"s":"EW5 HV","a":274,"b":282,"n":36},{"s":"EW5 HV","a":282,"b":290,"n":25},{"s":"EW5 HV","a":290,"b":298,"n":17},{"s":"EW5 HV","a":298,"b":306,"n":11},{"s":"EW5 HV","a":306,"b":314,"n":7},{"s":"EW5 HV","a":314,"b":322,"n":3},
{"s":"EW5 VV","a":32,"b":40,"n":4},{"s":"EW5 VV","a":40,"b":48,"n":7},{"s":"EW5 VV","a":48,"b":56,"n":19},{"s":"EW5 VV","a":56,"b":64,"n":82},{"s":"EW5 VV","a":64,"b":72,"n":240},{"s":"EW5 VV","a":72,"b":80,"n":400},{"s":"EW5 VV","a":80,"b":88,"n":480},{"s":"EW5 VV","a":88,"b":96,"n":400},{"s":"EW5 VV","a":96,"b":104,"n":280},{"s":"EW5 VV","a":104,"b":112,"n":110},{"s":"EW5 VV","a":112,"b":120,"n":60},{"s":"EW5 VV","a":120,"b":128,"n":55},{"s":"EW5 VV","a":128,"b":136,"n":60},{"s":"EW5 VV","a":136,"b":144,"n":50},{"s":"EW5 VV","a":144,"b":152,"n":55},{"s":"EW5 VV","a":152,"b":160,"n":55},{"s":"EW5 VV","a":160,"b":168,"n":60},{"s":"EW5 VV","a":168,"b":176,"n":70},{"s":"EW5 VV","a":176,"b":184,"n":85},{"s":"EW5 VV","a":184,"b":192,"n":90},{"s":"EW5 VV","a":192,"b":200,"n":120},{"s":"EW5 VV","a":200,"b":208,"n":160},{"s":"EW5 VV","a":208,"b":216,"n":220},{"s":"EW5 VV","a":216,"b":224,"n":210},{"s":"EW5 VV","a":224,"b":232,"n":190},{"s":"EW5 VV","a":232,"b":240,"n":130},{"s":"EW5 VV","a":240,"b":248,"n":90},{"s":"EW5 VV","a":248,"b":256,"n":55},{"s":"EW5 VV","a":256,"b":264,"n":33},{"s":"EW5 VV","a":264,"b":272,"n":18},{"s":"EW5 VV","a":272,"b":280,"n":11},{"s":"EW5 VV","a":280,"b":288,"n":7},{"s":"EW5 VV","a":288,"b":296,"n":5},{"s":"EW5 VV","a":296,"b":304,"n":3},{"s":"EW5 VV","a":304,"b":312,"n":2},{"s":"EW5 VV","a":312,"b":320,"n":1},
{"s":"EW5 VH","a":30,"b":38,"n":3},{"s":"EW5 VH","a":38,"b":46,"n":6},{"s":"EW5 VH","a":46,"b":54,"n":18},{"s":"EW5 VH","a":54,"b":62,"n":70},{"s":"EW5 VH","a":62,"b":70,"n":220},{"s":"EW5 VH","a":70,"b":78,"n":380},{"s":"EW5 VH","a":78,"b":86,"n":440},{"s":"EW5 VH","a":86,"b":94,"n":330},{"s":"EW5 VH","a":94,"b":102,"n":200},{"s":"EW5 VH","a":102,"b":110,"n":70},{"s":"EW5 VH","a":110,"b":118,"n":35},{"s":"EW5 VH","a":118,"b":126,"n":30},{"s":"EW5 VH","a":126,"b":134,"n":30},{"s":"EW5 VH","a":134,"b":142,"n":25},{"s":"EW5 VH","a":142,"b":150,"n":25},{"s":"EW5 VH","a":150,"b":158,"n":25},{"s":"EW5 VH","a":158,"b":166,"n":28},{"s":"EW5 VH","a":166,"b":174,"n":30},{"s":"EW5 VH","a":174,"b":182,"n":35},{"s":"EW5 VH","a":182,"b":190,"n":38},{"s":"EW5 VH","a":190,"b":198,"n":45},{"s":"EW5 VH","a":198,"b":206,"n":60},{"s":"EW5 VH","a":206,"b":214,"n":80},{"s":"EW5 VH","a":214,"b":222,"n":80},{"s":"EW5 VH","a":222,"b":230,"n":70},{"s":"EW5 VH","a":230,"b":238,"n":50},{"s":"EW5 VH","a":238,"b":246,"n":35},{"s":"EW5 VH","a":246,"b":254,"n":25},{"s":"EW5 VH","a":254,"b":262,"n":15},{"s":"EW5 VH","a":262,"b":270,"n":9},{"s":"EW5 VH","a":270,"b":278,"n":5},{"s":"EW5 VH","a":278,"b":286,"n":4},{"s":"EW5 VH","a":286,"b":294,"n":3},{"s":"EW5 VH","a":294,"b":302,"n":2},{"s":"EW5 VH","a":302,"b":310,"n":1}
]},
"mark":{"type":"bar","opacity":0.7,"binSpacing":0,"orient":"vertical"},
"encoding":{
"x":{"field":"a","type":"quantitative","bin":"binned","scale":{"domain":[1,412.5],"nice":false,"zero":false},
"axis":{"values":[50,100,150,200,250,300,350,400],"format":"d","title":"Brightness Temperature [K]","titleFont":"Liberation Sans","titleFontSize":26.5,"titleFontWeight":"normal","titleColor":"#333333","titleX":362,"titleY":47,"titleAlign":"center","titleBaseline":"alphabetic","labelFont":"DejaVu Sans","labelFontSize":9,"labelColor":"#444444","labelFlush":false,"tickSize":4,"tickColor":"#555555","labelPadding":3,"domainColor":"#555555","grid":true,"gridColor":"#c4c4c4","gridWidth":1,"zindex":1}},
"x2":{"field":"b"},
"y":{"field":"n","type":"quantitative","stack":null,"scale":{"domain":[0,4515],"nice":false},
"axis":{"values":[0,500,1000,1500,2000,2500,3000,3500,4000],"format":"d","title":null,"labelFont":"DejaVu Sans","labelFontSize":9,"labelColor":"#444444","tickSize":4,"tickColor":"#555555","labelPadding":3,"domainColor":"#555555","grid":true,"gridColor":"#c4c4c4","gridWidth":1,"zindex":1}},
"color":{"field":"s","type":"nominal",
"scale":{"domain":["IW1 HH","IW1 HV","IW1 VV","IW1 VH","IW2 HH","IW2 HV","IW2 VV","IW2 VH","IW3 HH","IW3 HV","IW3 VV","IW3 VH","EW1 HH","EW1 HV","EW1 VV","EW1 VH","EW3 HH","EW3 HV","EW3 VV","EW3 VH","EW4 HH","EW4 HV","EW4 VV","EW4 VH","EW5 HH","EW5 HV","EW5 VV","EW5 VH"],
"range":["#ff0000","#ff3900","#ff7100","#ffaa00","#ffe300","#e3ff00","#aaff00","#71ff00","#39ff00","#00ff00","#00ff39","#00ff71","#00ffaa","#00ffe3","#00e3ff","#00aaff","#0071ff","#0039ff","#0000ff","#3900ff","#7100ff","#aa00ff","#e300ff","#ff00e3","#ff00aa","#ff0071","#ff0039","#ff0000"]},
"legend":{"orient":"none","legendX":674,"legendY":-7,"zindex":2,"title":null,"symbolType":"M-1.9,-0.55H1.9V0.55H-1.9Z","symbolSize":100,"symbolOpacity":0.7,"symbolStrokeWidth":0,"labelFont":"DejaVu Sans","labelFontSize":9,"labelColor":"#333333","labelOffset":12,"rowPadding":4,"padding":7,"fillColor":"rgba(246,246,246,0.9)","strokeColor":"#cccccc","cornerRadius":3}}
}
}
